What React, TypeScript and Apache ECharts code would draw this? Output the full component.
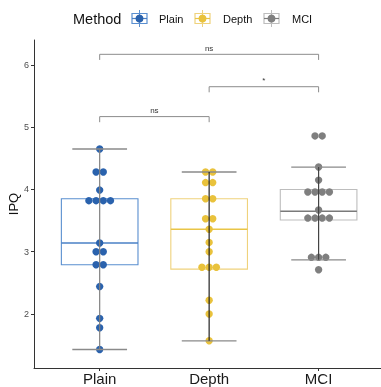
import React, { useEffect, useRef } from "react";
import * as echarts from "echarts";

const categories = ["Plain", "Depth", "MCI"];
const plainValues = [4.65, 4.28, 4.28, 3.99, 3.82, 3.82, 3.82, 3.82, 3.14, 3.0, 3.0, 2.79, 2.79, 2.44, 1.93, 1.78, 1.43];
const depthValues = [4.28, 4.28, 4.11, 4.11, 3.85, 3.85, 3.53, 3.53, 3.36, 3.15, 3.0, 2.75, 2.75, 2.75, 2.22, 2.0, 1.57];
const mciValues = [4.86, 4.86, 4.36, 4.15, 3.96, 3.96, 3.96, 3.96, 3.67, 3.54, 3.54, 3.54, 3.54, 2.91, 2.91, 2.91, 2.71];
// [lower whisker, Q1, median, Q3, upper whisker]
const plainBox = [1.43, 2.79, 3.14, 3.85, 4.65];
const depthBox = [1.57, 2.72, 3.36, 3.85, 4.28];
const mciBox = [2.87, 3.51, 3.65, 4.0, 4.36];
const compFrom = [1, 2, 1];
const compTo = [3, 3, 2];
const compY = [6.17, 5.65, 5.17];
const compLabels = ["ns", "*", "ns"];
const yTicks = [2, 3, 4, 5, 6];
const xTicks = [1, 2, 3];

const dotColors = ["#2a62ad", "#e9c23c", "#7f7f7f"];
const boxColors = ["#5a8fd0", "#efd27c", "#bdbdbd"];
const medianColors = ["#4a80c6", "#e9c547", "#7a7a7a"];
const stemColors = ["#808080", "#222222", "#444444"];
const FONT = "Liberation Sans, Arial, Helvetica, sans-serif";

function dotData() {
  const groups = [plainValues, depthValues, mciValues];
  const out: number[][] = [];
  groups.forEach((vals, g) => {
    const counts = new Map<number, number>();
    vals.forEach((v) => counts.set(v, (counts.get(v) || 0) + 1));
    counts.forEach((n, v) => {
      for (let k = 0; k < n; k++) out.push([g + 1, v, k, n, g]);
    });
  });
  return out;
}

export default function App() {
  const ref = useRef<HTMLDivElement>(null);
  useEffect(() => {
    const chart = echarts.init(ref.current!, undefined, { renderer: "svg" });
    const boxes = [plainBox, depthBox, mciBox].map((b, g) => [g + 1, ...b, g]);
    const comps = compFrom.map((f, i) => [f, compTo[i], compY[i], i]);

    const legendChildren: any[] = [
      { type: "text", style: { text: "Method", x: 73, y: 19, font: `14.5px ${FONT}`, fill: "#111", verticalAlign: "middle" } },
    ];
    const keyX = [132, 195, 264];
    const labX = [159, 223, 292];
    categories.forEach((c, i) => {
      const kx = keyX[i];
      legendChildren.push(
        { type: "rect", shape: { x: kx, y: 13.5, width: 15, height: 10 }, style: { fill: "#fff", stroke: boxColors[i], lineWidth: 1.2 } },
        { type: "line", shape: { x1: kx + 7.5, y1: 10, x2: kx + 7.5, y2: 27 }, style: { stroke: boxColors[i], lineWidth: 1 } },
        { type: "line", shape: { x1: kx, y1: 18.5, x2: kx + 15, y2: 18.5 }, style: { stroke: medianColors[i], lineWidth: 1.2 } },
        { type: "circle", shape: { cx: kx + 7.5, cy: 18.5, r: 4 }, style: { fill: dotColors[i] } },
        { type: "text", style: { text: c, x: labX[i], y: 19, font: `11px ${FONT}`, fill: "#111", verticalAlign: "middle" } }
      );
    });

    chart.setOption({
      animation: false,
      grid: { left: 34, right: 0, top: 40, bottom: 19, containLabel: false, outerBoundsMode: "none" },
      xAxis: {
        type: "value",
        min: 0.4,
        max: 3.57,
        splitLine: { show: false },
        axisLine: { show: true, lineStyle: { color: "#333", width: 1 } },
        axisTick: { show: true, customValues: xTicks, length: 3, lineStyle: { color: "#333" } },
        axisLabel: {
          customValues: xTicks,
          formatter: (v: number) => categories[Math.round(v) - 1] || "",
          fontSize: 15,
          fontFamily: FONT,
          color: "#1a1a1a",
          margin: 3,
        },
      },
      yAxis: {
        type: "value",
        min: 1.133,
        max: 6.4,
        splitLine: { show: false },
        axisLine: { show: true, lineStyle: { color: "#333", width: 1 } },
        axisTick: { show: true, customValues: yTicks, length: 3, lineStyle: { color: "#333" } },
        axisLabel: { customValues: yTicks, fontSize: 9, fontFamily: FONT, color: "#4d4d4d", margin: 5 },
        name: "IPQ",
        nameLocation: "middle",
        nameGap: 14,
        nameMoveOverlap: false,
        nameTextStyle: { fontSize: 13, fontFamily: FONT, color: "#111" },
      },
      graphic: [{ type: "group", children: legendChildren }],
      series: [
        {
          type: "custom",
          z: 1,
          data: boxes,
          renderItem: (params: any, api: any) => {
            const x = api.value(0);
            const g = api.value(6);
            const l = api.coord([x - 0.35, 0])[0];
            const r = api.coord([x + 0.35, 0])[0];
            const yq1 = api.coord([x, api.value(2)])[1];
            const ymed = api.coord([x, api.value(3)])[1];
            const yq3 = api.coord([x, api.value(4)])[1];
            return {
              type: "group",
              children: [
                { type: "rect", shape: { x: l, y: yq3, width: r - l, height: yq1 - yq3 }, style: { fill: "#fff", stroke: boxColors[g], lineWidth: 1.1 } },
                { type: "line", shape: { x1: l, y1: ymed, x2: r, y2: ymed }, style: { stroke: medianColors[g], lineWidth: 1.6 } },
              ],
            };
          },
        },
        {
          type: "custom",
          z: 2,
          data: dotData(),
          renderItem: (params: any, api: any) => {
            const c = api.coord([api.value(0), api.value(1)]);
            const k = api.value(2);
            const n = api.value(3);
            const g = api.value(4);
            return { type: "circle", shape: { cx: c[0] + (k - (n - 1) / 2) * 7.2, cy: c[1], r: 3.7 }, style: { fill: dotColors[g] } };
          },
        },
        {
          type: "custom",
          z: 3,
          data: boxes,
          renderItem: (params: any, api: any) => {
            const x = api.value(0);
            const g = api.value(6);
            const l = api.coord([x - 0.25, 0])[0];
            const r = api.coord([x + 0.25, 0])[0];
            const cx = api.coord([x, 0])[0];
            const ylo = api.coord([x, api.value(1)])[1];
            const yhi = api.coord([x, api.value(5)])[1];
            return {
              type: "group",
              children: [
                { type: "line", shape: { x1: l, y1: ylo, x2: r, y2: ylo }, style: { stroke: "#8a8a8a", lineWidth: 1.3 } },
                { type: "line", shape: { x1: l, y1: yhi, x2: r, y2: yhi }, style: { stroke: "#8a8a8a", lineWidth: 1.3 } },
                { type: "line", shape: { x1: cx, y1: ylo, x2: cx, y2: yhi }, style: { stroke: stemColors[g], lineWidth: 1.2 } },
              ],
            };
          },
        },
        {
          type: "custom",
          z: 3,
          data: comps,
          renderItem: (params: any, api: any) => {
            const f = api.value(0);
            const t = api.value(1);
            const y = api.value(2);
            const i = api.value(3);
            const tip = 0.09;
            const a = api.coord([f, y - tip]);
            const b = api.coord([f, y]);
            const c = api.coord([t, y]);
            const d = api.coord([t, y - tip]);
            return {
              type: "group",
              children: [
                { type: "polyline", shape: { points: [a, b, c, d] }, style: { stroke: "#8c8c8c", lineWidth: 1, fill: "none" } },
                {
                  type: "text",
                  style: { text: compLabels[i], x: (b[0] + c[0]) / 2, y: b[1] - 2, align: "center", verticalAlign: "bottom", font: `8px ${FONT}`, fill: "#333" },
                },
              ],
            };
          },
        },
      ],
    });
    return () => chart.dispose();
  }, []);
  return <div ref={ref} style={{ position: "fixed", left: 0, top: 0, width: 381, height: 387 }} />;
}
